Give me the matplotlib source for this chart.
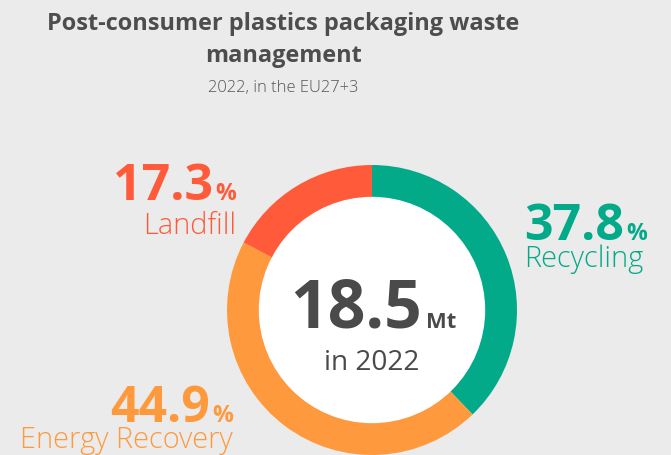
import matplotlib
matplotlib.use("Agg")
import matplotlib.pyplot as plt

# data
labels = ["Recycling", "Energy Recovery", "Landfill"]
shares = [37.8, 44.9, 17.3]
colors = ["#02aa8a", "#ff993d", "#ff5b3a"]
total_mt = 18.5
year = 2022

title = "Post-consumer plastics packaging waste\nmanagement"
subtitle = "2022, in the EU27+3"

W, H = 671, 456
FONT = "Open Sans"
BG = "#ebebeb"
DARK = "#4a4a4a"

fig = plt.figure(figsize=(W / 100, H / 100), dpi=100, facecolor=BG)
ax = fig.add_axes([0, 0, 1, 1])
ax.set_facecolor(BG)


def pt(px):
    # pixel size of em -> points
    return px * 72 / 100


# donut (pixel coords, y up)
cx, cy = 372, H - 311
ax.pie(shares, colors=colors, center=(cx, cy), radius=145, startangle=90,
       counterclock=False, wedgeprops=dict(width=33, linewidth=0))
ax.add_patch(plt.Circle((cx, cy), 112.5, color="white", zorder=3))
ax.set_xlim(0, W)
ax.set_ylim(0, H)
ax.set_aspect("equal")
ax.axis("off")

# title
line1, line2 = title.split("\n")
ax.text(283, H - 30, line1, ha="center", va="baseline",
        fontsize=pt(23.5), fontweight="bold", color="#4d4d4d", family=FONT)
ax.text(283, H - 62, line2, ha="center", va="baseline",
        fontsize=pt(23.5), fontweight="bold", color="#4d4d4d", family=FONT)
ax.text(283, H - 92, subtitle, ha="center", va="baseline",
        fontsize=pt(16.5), fontweight="light", color="#555555", family=FONT)

renderer = fig.canvas.get_renderer()


def px_width(t):
    return t.get_window_extent(renderer=renderer).width


def big_value(x, y, value, color, align):
    # number + small "%" sharing a baseline
    num = ax.text(0, y, f"{value:.1f}", ha="left", va="baseline",
                  fontsize=pt(50), fontweight="bold", color=color, family=FONT)
    pc = ax.text(0, y, "%", ha="left", va="baseline",
                 fontsize=pt(23), fontweight="bold", color=color, family=FONT)
    wn, wp = px_width(num), px_width(pc)
    gap = 2
    left = x if align == "left" else x - (wn + gap + wp)
    num.set_x(left)
    pc.set_x(left + wn + gap)


def name_label(x, y, text, color, align):
    ax.text(x, y, text, ha=align, va="baseline", fontsize=pt(29),
            fontweight="light", color=color, family=FONT)


# Recycling (right side)
big_value(524, H - 240, shares[0], colors[0], "left")
name_label(524, H - 267, labels[0], colors[0], "left")
# Landfill (top left)
big_value(236, H - 200, shares[2], colors[2], "right")
name_label(236, H - 234, labels[2], colors[2], "right")
# Energy Recovery (bottom left)
big_value(233, H - 422, shares[1], colors[1], "right")
name_label(233, H - 448, labels[1], colors[1], "right")

# center total
num = ax.text(0, H - 328, f"{total_mt:.1f}", ha="left", va="baseline",
              fontsize=pt(66), fontweight="bold", color=DARK, family=FONT,
              zorder=4)
unit = ax.text(0, H - 328, "Mt", ha="left", va="baseline",
               fontsize=pt(22), fontweight="bold", color=DARK, family=FONT,
               zorder=4)
wn, wu = px_width(num), px_width(unit)
gap = 4
left = 373 - (wn + gap + wu) / 2
num.set_x(left)
unit.set_x(left + wn + gap)
ax.text(372, H - 370, f"in {year}", ha="center", va="baseline",
        fontsize=pt(28), color=DARK, family=FONT, zorder=4)

fig.savefig("out.png", dpi=100, facecolor=BG)
